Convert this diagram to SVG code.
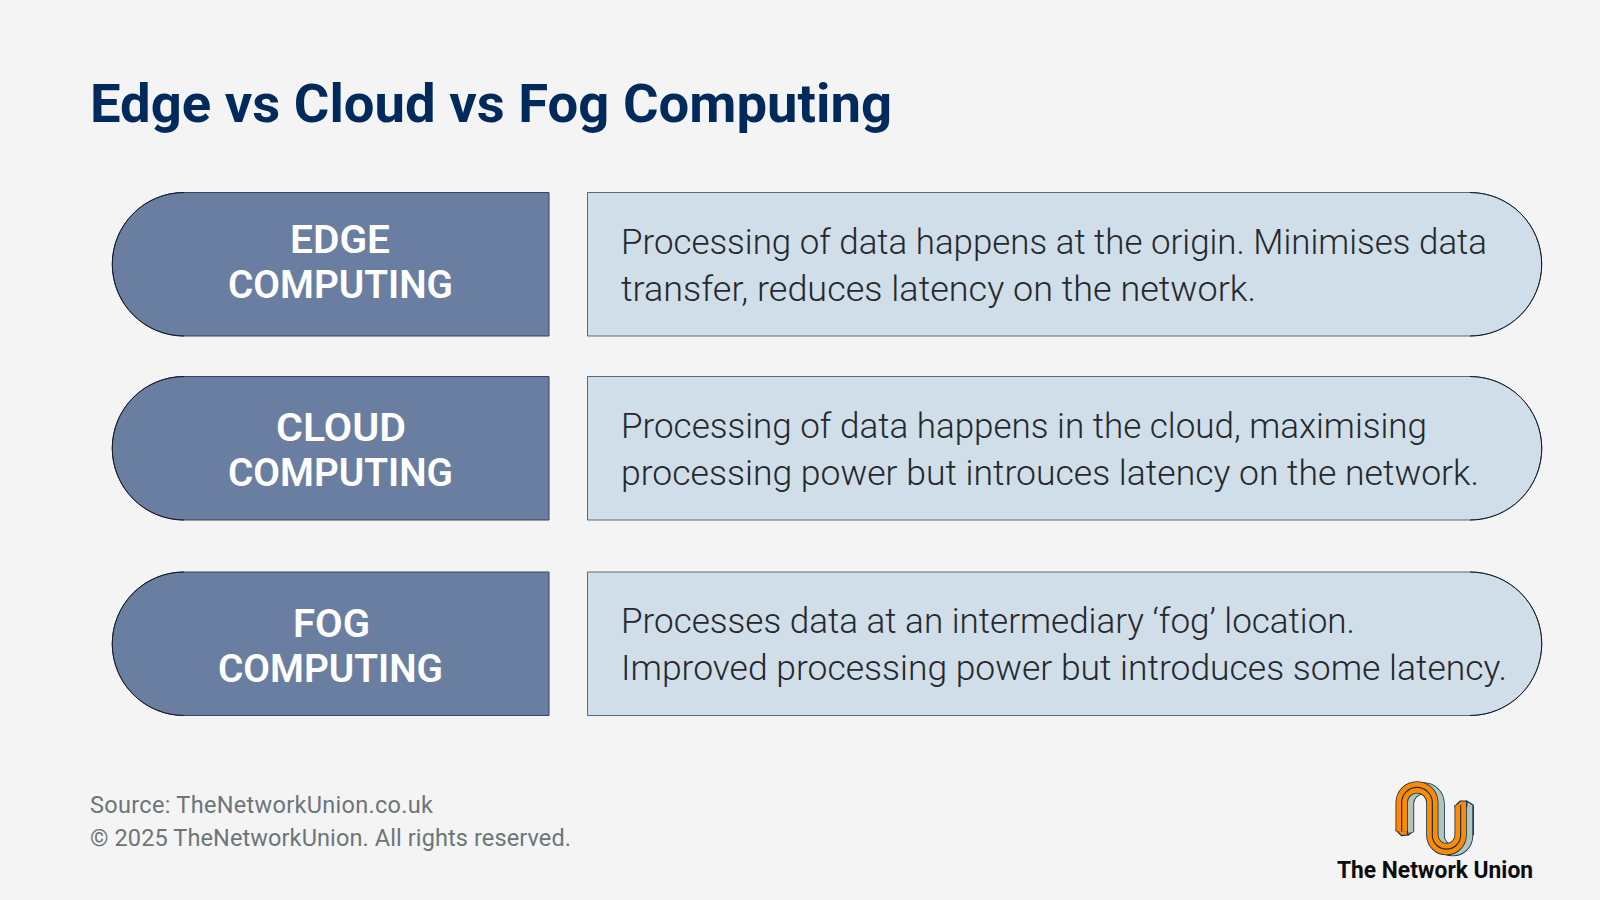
<svg xmlns="http://www.w3.org/2000/svg" width="1600" height="900" viewBox="0 0 1600 900">
<style>
text{font-family:Roboto,"Liberation Sans",sans-serif}
.title{font-size:54px;font-weight:700;fill:#002a5c}
.lab{font-size:39px;font-weight:600;fill:#fff;text-anchor:start}
.desc{font-size:35px;font-weight:300;fill:#25282c}
.foot{font-size:23.5px;fill:#6c757a}
.brand{font-size:23px;font-weight:700;fill:#0c0c0c}
.left{fill:#6a7ea1;stroke:#3a4658;stroke-width:1}
.leftc{fill:none;stroke:#141a24;stroke-width:1}
.right{fill:#d0dee9;stroke:#5f6870;stroke-width:1}
.rightc{fill:none;stroke:#141a24;stroke-width:1}
.ln{fill:none;stroke-linecap:butt;stroke-linejoin:round}
</style>
<defs>
<path id="wave" d="M305,244V158A46,46 0 0 1 397,158V255A42.5,42.5 0 0 0 482,255V165"/>
</defs>
<rect width="1600" height="900" fill="#f4f4f4"/>
<text class="title" x="90" y="122" textLength="802" lengthAdjust="spacingAndGlyphs">Edge vs Cloud vs Fog Computing</text>
<g id="edge-label">
<path class="left" d="M549,192.500V336H184A71.750,71.750 0 0 1 184,192.500Z"/>
<path class="leftc" d="M184,336A71.750,71.750 0 0 1 184,192.500"/>
<text class="lab" x="290" y="252.500" textLength="100" lengthAdjust="spacingAndGlyphs">EDGE</text>
<text class="lab" x="228" y="297.500" textLength="225" lengthAdjust="spacingAndGlyphs">COMPUTING</text>
</g>
<g id="edge-desc">
<path class="right" d="M587.500,192.500H1470A71.750,71.750 0 0 1 1470,336H587.500Z"/>
<path class="rightc" d="M1470,192.500A71.750,71.750 0 0 1 1470,336"/>
<text class="desc" x="621" y="254" textLength="866" lengthAdjust="spacingAndGlyphs">Processing of data happens at the origin. Minimises data</text>
<text class="desc" x="621" y="301" textLength="635" lengthAdjust="spacingAndGlyphs">transfer, reduces latency on the network.</text>
</g>
<g id="cloud-label">
<path class="left" d="M549,376.500V520H184A71.750,71.750 0 0 1 184,376.500Z"/>
<path class="leftc" d="M184,520A71.750,71.750 0 0 1 184,376.500"/>
<text class="lab" x="276" y="440.500" textLength="130" lengthAdjust="spacingAndGlyphs">CLOUD</text>
<text class="lab" x="228" y="485.500" textLength="225" lengthAdjust="spacingAndGlyphs">COMPUTING</text>
</g>
<g id="cloud-desc">
<path class="right" d="M587.500,376.500H1470A71.750,71.750 0 0 1 1470,520H587.500Z"/>
<path class="rightc" d="M1470,376.500A71.750,71.750 0 0 1 1470,520"/>
<text class="desc" x="621" y="438" textLength="806" lengthAdjust="spacingAndGlyphs">Processing of data happens in the cloud, maximising</text>
<text class="desc" x="621" y="485" textLength="858" lengthAdjust="spacingAndGlyphs">processing power but introuces latency on the network.</text>
</g>
<g id="fog-label">
<path class="left" d="M549,572V715.500H184A71.750,71.750 0 0 1 184,572Z"/>
<path class="leftc" d="M184,715.500A71.750,71.750 0 0 1 184,572"/>
<text class="lab" x="293" y="636.500" textLength="77" lengthAdjust="spacingAndGlyphs">FOG</text>
<text class="lab" x="218" y="681.500" textLength="225" lengthAdjust="spacingAndGlyphs">COMPUTING</text>
</g>
<g id="fog-desc">
<path class="right" d="M587.500,572H1470A71.750,71.750 0 0 1 1470,715.500H587.500Z"/>
<path class="rightc" d="M1470,572A71.750,71.750 0 0 1 1470,715.500"/>
<text class="desc" x="621" y="633" textLength="734" lengthAdjust="spacingAndGlyphs">Processes data at an intermediary ‘fog’ location.</text>
<text class="desc" x="621" y="680" textLength="886" lengthAdjust="spacingAndGlyphs">Improved processing power but introduces some latency.</text>
</g>
<g id="footer">
<text class="foot" x="90" y="813" textLength="343">Source: TheNetworkUnion.co.uk</text>
<text class="foot" x="90" y="846" textLength="481">© 2025 TheNetworkUnion. All rights reserved.</text>
</g>
<g id="logo">
<g transform="translate(1300,750) scale(.33333)">
<path d="M322,232L340,232L340,244L324,256Z" fill="#b2c5ba" stroke="#12324f" stroke-width="3.500" stroke-linejoin="round"/>
<path d="M500,153L520,166V255H500Z" fill="#b2c5ba" stroke="#12324f" stroke-width="3.500" stroke-linejoin="round"/>
<g transform="translate(19,3)">
<use href="#wave" class="ln" stroke="#12324f" stroke-width="37"/>
<use href="#wave" class="ln" stroke="#b2c5ba" stroke-width="32"/>
</g>
<path d="M465,168L481,153L500,153V170H465Z" fill="#ff8a00" stroke="#12324f" stroke-width="3.500" stroke-linejoin="round"/>
<path d="M288,240L304,257L322,255V240Z" fill="#ff8a00" stroke="#12324f" stroke-width="3.500" stroke-linejoin="round"/>
<use href="#wave" class="ln" stroke="#12324f" stroke-width="37"/>
<use href="#wave" class="ln" stroke="#ff8a00" stroke-width="32"/>
<use href="#wave" class="ln" stroke="#12324f" stroke-width="3.500"/>
</g>
<text class="brand" x="1337" y="878" textLength="196" lengthAdjust="spacingAndGlyphs">The Network Union</text>
</g>
</svg>
